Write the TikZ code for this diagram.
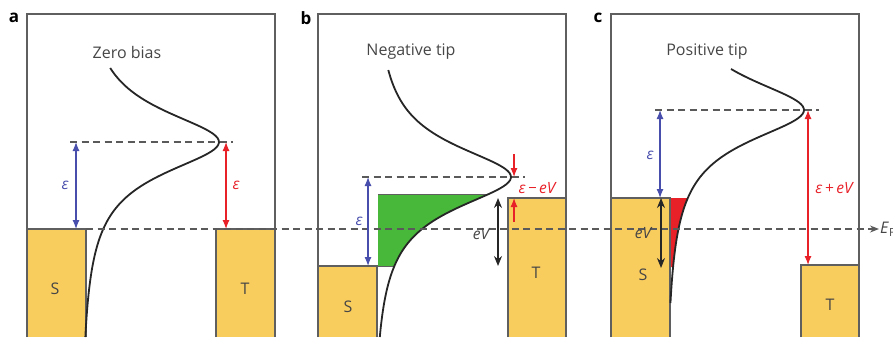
\documentclass[tikz,border=0pt]{standalone}
\usepackage{fontspec}
\setmainfont{Open Sans}
\usepackage{tikz}
\usepackage{xcolor}
\usetikzlibrary{arrows.meta}

\definecolor{gold}{RGB}{249,204,94}
\definecolor{framegray}{RGB}{95,95,95}
\definecolor{dashgray}{RGB}{90,90,90}
\definecolor{txtgray}{RGB}{70,70,70}
\definecolor{epsblue}{RGB}{72,78,172}
\definecolor{epsred}{RGB}{232,32,40}
\definecolor{fillgreen}{RGB}{72,184,58}

\begin{document}
\begin{tikzpicture}[x=1pt,y=-1pt,
    declare function={lor(\t)=139/(1+(\t/39)^2);},
    frame/.style={draw=framegray,line width=1.1pt},
    metal/.style={fill=gold},
    level/.style={draw=dashgray,line width=1.3pt,dash pattern=on 7pt off 4.5pt},
    dos/.style={draw=black!85,line width=1.8pt},
    lab/.style={text=txtgray,font=\fontsize{16}{16}\selectfont},
    panel/.style={font=\fontsize{17}{17}\selectfont\bfseries},
    elab/.style={font=\fontsize{15.5}{15.5}\selectfont\itshape},
    bluearr/.style={epsblue,line width=1.2pt,{Latex[length=9pt,width=7pt]}-{Latex[length=9pt,width=7pt]}},
    redarr/.style={epsred,line width=1.2pt,{Latex[length=9pt,width=7pt]}-{Latex[length=9pt,width=7pt]}},
    evarr/.style={black!85,line width=1.3pt,{Stealth[length=10pt,width=8pt]}-{Stealth[length=10pt,width=8pt]}}]
  \useasboundingbox (0,0) rectangle (893,337);

  % Metal electrodes
  \fill[metal] (27,229) rectangle (86,337);
  \fill[metal] (216,229) rectangle (275,337);
  \fill[metal] (318,266) rectangle (377,337);
  \fill[metal] (508,198) rectangle (566,337);
  \fill[metal] (611,198) rectangle (670,337);
  \fill[metal] (801,265) rectangle (859,337);

  % Tunnelling windows
  \fill[fillgreen] (378,194) -- plot[domain=194:266,variable=\y,samples=40] ({372+lor(\y-177)},\y) -- (378,266) -- cycle;
  \fill[epsred] (670,198) -- plot[domain=198:267,variable=\y,samples=40] ({665+lor(\y-110)},\y) -- (670,267) -- cycle;
  \draw[framegray,line width=0.8pt] (378,194) -- ({372+lor(194-177)},194);
  \draw[framegray,line width=0.8pt] (377,266) -- ({372+lor(266-177)},266);

  % Frames
  \draw[frame] (27,337) |- (275,14) -- (275,337);
  \draw[frame] (318,337) |- (566,14) -- (566,337);
  \draw[frame] (611,337) |- (859,14) -- (859,337);
  \draw[frame] (27,229) -- (86,229) -- (86,337);
  \draw[frame] (216,337) |- (275,229);
  \draw[frame] (318,266) -- (377,266) -- (377,337);
  \draw[frame] (508,337) |- (566,198);
  \draw[frame] (611,198) -- (670,198) -- (670,337);
  \draw[frame] (801,337) |- (859,265);

  % Densities of states
  \draw[dos] plot[domain=68:337,variable=\y,samples=120] ({80+lor(\y-142)},\y);
  \draw[dos] plot[domain=70:337,variable=\y,samples=120] ({372+lor(\y-177)},\y);
  \draw[dos] plot[domain=69:303,variable=\y,samples=120] ({665+lor(\y-110)},\y);

  % Levels
  \coordinate (fa) at (86,229);
  \coordinate (fe) at (879,229);
  \draw[level] (70,142) -- (233,142);
  \draw[level] (362,177) -- (525,177);
  \draw[level] (655,110) -- (819,110);
  \draw[level,-{Stealth[length=9pt,width=7pt]}] (fa) -- (fe);
  \node[lab,anchor=west,inner sep=1pt] (ef) at (fe) {\textit{E}\textsubscript{F}};

  % Panel a
  \coordinate (a1) at (76,142);
  \coordinate (a2) at (76,229);
  \coordinate (a3) at (226,142);
  \coordinate (a4) at (226,229);
  \draw[bluearr] (a1) -- (a2);
  \draw[redarr] (a3) -- (a4);
  \node[elab,epsblue] (ea) at (65,185) {ε};
  \node[elab,epsred] (eb) at (236,185) {ε};

  % Panel b
  \coordinate (b1) at (368,177);
  \coordinate (b2) at (368,266);
  \coordinate (b3) at (514,154);
  \coordinate (b4) at (514,177);
  \coordinate (b5) at (514,222);
  \coordinate (b6) at (514,198);
  \coordinate (b7) at (498,198);
  \coordinate (b8) at (498,266);
  \draw[bluearr] (b1) -- (b2);
  \draw[epsred,line width=1.2pt,-{Latex[length=9pt,width=7pt]}] (b3) -- (b4);
  \draw[epsred,line width=1.2pt,-{Latex[length=9pt,width=7pt]}] (b5) -- (b6);
  \draw[evarr] (b7) -- (b8);
  \node[elab,epsblue] (ec) at (359,221) {ε};
  \node[elab,epsred] (ed) at (537,188) {ε\,−\,eV};
  \node[elab,txtgray] (ve) at (481,234) {eV};

  % Panel c
  \coordinate (c1) at (660,110);
  \coordinate (c2) at (660,198);
  \coordinate (c3) at (808,110);
  \coordinate (c4) at (808,265);
  \coordinate (c5) at (661,198);
  \coordinate (c6) at (661,268);
  \draw[bluearr] (c1) -- (c2);
  \draw[redarr] (c3) -- (c4);
  \draw[evarr] (c5) -- (c6);
  \node[elab,epsblue] (ee) at (650,155) {ε};
  \node[elab,epsred] (ef2) at (834,188) {ε\,+\,eV};
  \node[elab,txtgray] (vf) at (643,233) {eV};

  % Electrode labels
  \node[lab] (sa) at (55,289) {S};
  \node[lab] (ta) at (245,289) {T};
  \node[lab] (sb) at (348,307) {S};
  \node[lab] (tb) at (536,273) {T};
  \node[lab] (sc) at (643,275) {S};
  \node[lab] (tc) at (830,305) {T};

  % Titles
  \node[lab] (ta0) at (127,53) {Zero bias};
  \node[lab] (tb0) at (411,52) {Negative tip};
  \node[lab] (tc0) at (707,52) {Positive tip};
  \node[panel] (pa) at (14,18) {a};
  \node[panel] (pb) at (306,18) {b};
  \node[panel] (pc) at (598,18) {c};
\end{tikzpicture}
\end{document}
